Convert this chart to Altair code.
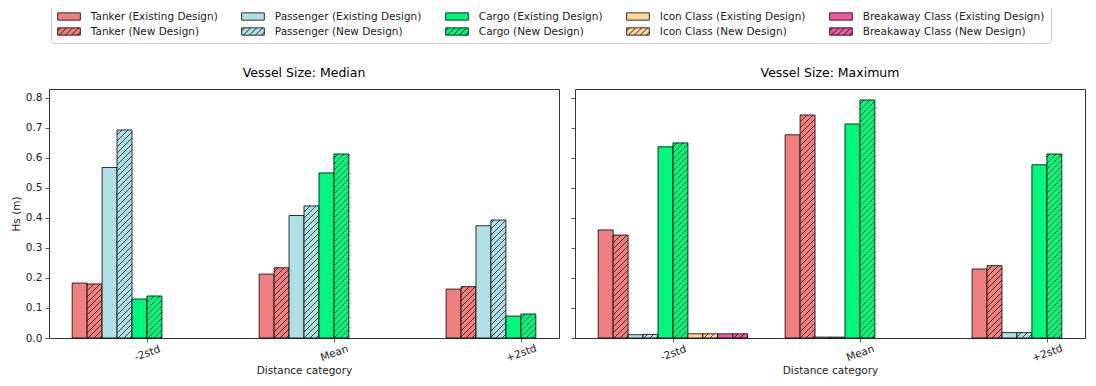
import json
import numpy as np
import pandas as pd
import altair as alt

# ---------------- data ----------------
categories = ["-2std", "Mean", "+2std"]
vessels = ["Tanker", "Passenger", "Cargo", "Icon Class", "Breakaway Class"]
designs = ["Existing Design", "New Design"]
panel_titles = ["Vessel Size: Median", "Vessel Size: Maximum"]

# Hs (m) for -2std, Mean, +2std ; None = no bar
median_tanker_existing = [0.183, 0.213, 0.163]
median_tanker_new = [0.180, 0.234, 0.171]
median_passenger_existing = [0.568, 0.408, 0.374]
median_passenger_new = [0.693, 0.440, 0.393]
median_cargo_existing = [0.130, 0.550, 0.073]
median_cargo_new = [0.140, 0.613, 0.080]
median_icon_existing = [None, None, None]
median_icon_new = [None, None, None]
median_breakaway_existing = [None, None, None]
median_breakaway_new = [None, None, None]

max_tanker_existing = [0.360, 0.677, 0.230]
max_tanker_new = [0.343, 0.743, 0.241]
max_passenger_existing = [0.011, 0.003, 0.018]
max_passenger_new = [0.012, 0.003, 0.018]
max_cargo_existing = [0.637, 0.713, 0.577]
max_cargo_new = [0.650, 0.793, 0.613]
max_icon_existing = [0.014, None, None]
max_icon_new = [0.014, None, None]
max_breakaway_existing = [0.014, None, None]
max_breakaway_new = [0.014, None, None]

vessel_colors = ["#F08080", "#B0E0E6", "#00F77C", "#FFD49E", "#EE5AA2"]

panel_values = [
    [[median_tanker_existing, median_tanker_new],
     [median_passenger_existing, median_passenger_new],
     [median_cargo_existing, median_cargo_new],
     [median_icon_existing, median_icon_new],
     [median_breakaway_existing, median_breakaway_new]],
    [[max_tanker_existing, max_tanker_new],
     [max_passenger_existing, max_passenger_new],
     [max_cargo_existing, max_cargo_new],
     [max_icon_existing, max_icon_new],
     [max_breakaway_existing, max_breakaway_new]],
]

# ---------------- layout constants ----------------
W, H = 510, 249
XMIN, XMAX = -0.524, 2.204
YMIN, YMAX = 0.0, 0.8295
BAR_W = 0.08
KX = W / (XMAX - XMIN)
KY = H / (YMAX - YMIN)
HATCH_S = 6.0  # px spacing of hatch lines
FONT = "DejaVu Sans"


def series_name(v, d):
    return f"{v} ({d})"


def hatch_segments(x0, x1, top):
    X0 = (x0 - XMIN) * KX
    X1 = (x1 - XMIN) * KX
    Yt = (YMAX - top) * KY
    Yb = (YMAX - 0.0) * KY
    segs = []
    k0 = int(np.floor((X0 + Yt) / HATCH_S))
    k1 = int(np.ceil((X1 + Yb) / HATCH_S))
    for k in range(k0, k1 + 1):
        C = k * HATCH_S
        a = max(X0, C - Yb)
        b = min(X1, C - Yt)
        if b - a > 0.4:
            segs.append((XMIN + a / KX, YMAX - (C - a) / KY,
                         XMIN + b / KX, YMAX - (C - b) / KY))
    return segs


bar_frames, hatch_frames = [], []
for p in range(len(panel_titles)):
    rows, hrows = [], []
    for vi, v in enumerate(vessels):
        for di, d in enumerate(designs):
            vals = panel_values[p][vi][di]
            s = vi * 2 + di
            for ci, c in enumerate(categories):
                val = vals[ci]
                if val is None:
                    continue
                x0 = ci + (s - 5) * BAR_W
                rows.append({"series": series_name(v, d), "category": c,
                             "x0": x0, "x1": x0 + BAR_W, "hs": val, "base": 0.0})
                if di == 1:
                    for (a, b, c2, d2) in hatch_segments(x0, x0 + BAR_W, val):
                        hrows.append({"hx0": a, "hy0": b, "hx1": c2, "hy1": d2})
    bar_frames.append(pd.DataFrame(rows))
    hatch_frames.append(pd.DataFrame(hrows))

# legend order (Vega fills the 5 columns column-by-column)
legend_domain = [series_name(v, d) for v in vessels for d in designs]
legend_colors = [vessel_colors[i] for i in range(len(vessels)) for _ in designs]


def swatch_path(hatched):
    hw, hh = 1.89, 0.61
    path = f"M{-hw},{-hh}H{hw}V{hh}H{-hw}Z"
    if hatched:
        C = -hw - hh + 0.5
        while C < hw + hh:
            a = max(-hw, C - hh)
            b = min(hw, C + hh)
            if b - a > 0.05:
                path += f"M{a:.3f},{C - a:.3f}L{b:.3f},{C - b:.3f}"
            C += 1.0
    return path


legend_shapes = [swatch_path(di == 1) for _ in vessels for di in range(len(designs))]

fill_scale = alt.Scale(domain=legend_domain, range=legend_colors)
shape_scale = alt.Scale(domain=legend_domain, range=legend_shapes)
stroke_scale = alt.Scale(domain=legend_domain, range=["black"] * len(legend_domain))
xscale = alt.Scale(domain=[XMIN, XMAX], nice=False, zero=False)
yscale = alt.Scale(domain=[YMIN, YMAX], nice=False, zero=False)

label_expr = f"{json.dumps(categories)}[datum.value]"

legend_kw = dict(
    title=None, orient="none", legendX=2, legendY=-85, columns=5,
    symbolSize=144, symbolStrokeColor="black", symbolStrokeWidth=0.8,
    symbolOpacity=1, symbolOffset=5.5, labelOffset=15.3, labelFontSize=10.5,
    labelFont=FONT, labelColor="#222222", labelLimit=300, rowPadding=3,
    columnPadding=22, padding=6, strokeColor="#cccccc", cornerRadius=3,
    fillColor="white",
)

yvalues = [i / 10 for i in range(9)]


def panel(p):
    xaxis = alt.Axis(values=list(range(len(categories))), labelExpr=label_expr,
                     labelAngle=340, labelAlign="center", labelBaseline="middle",
                     labelPadding=11, title="Distance category", titlePadding=2)
    if p == 0:
        yaxis = alt.Axis(values=yvalues, format=".1f", labelOverlap=False,
                         title="Hs (m)", titlePadding=4, labelPadding=3)
    else:
        yaxis = alt.Axis(values=yvalues, labels=False, title=None)

    layers = []
    if p == 0:
        legend_layer = alt.Chart(bar_frames[p]).mark_point(
            filled=True, strokeWidth=0.8, opacity=0, size=1
        ).encode(
            x=alt.X("x0:Q", scale=xscale, axis=xaxis),
            y=alt.Y("hs:Q", scale=yscale, axis=yaxis),
            fill=alt.Fill("series:N", scale=fill_scale, legend=alt.Legend(**legend_kw)),
            stroke=alt.Stroke("series:N", scale=stroke_scale, legend=alt.Legend(**legend_kw)),
            shape=alt.Shape("series:N", scale=shape_scale, legend=alt.Legend(**legend_kw)),
        )
        layers.append(legend_layer)

    bars = alt.Chart(bar_frames[p]).mark_bar(stroke="black", strokeWidth=0.8).encode(
        x=alt.X("x0:Q", scale=xscale, axis=xaxis),
        x2="x1:Q",
        y=alt.Y("hs:Q", scale=yscale, axis=yaxis),
        y2="base:Q",
        fill=alt.Fill("series:N", scale=fill_scale, legend=None),
    )
    hatch = alt.Chart(hatch_frames[p]).mark_rule(color="black", strokeWidth=0.7).encode(
        x=alt.X("hx0:Q", scale=xscale, axis=xaxis),
        y=alt.Y("hy0:Q", scale=yscale, axis=yaxis),
        x2="hx1:Q", y2="hy1:Q",
    )
    layers += [bars, hatch]
    return alt.layer(*layers).properties(
        width=W, height=H,
        title=alt.TitleParams(panel_titles[p], fontSize=12.5, fontWeight="normal",
                              font=FONT, color="black", anchor="middle", offset=10),
    )


chart = alt.hconcat(panel(0), panel(1), spacing=10).properties(
    padding={"left": 2, "top": -5, "right": 0, "bottom": 0}
).configure_view(
    stroke="#333333", strokeWidth=1
).configure_axis(
    domain=False, grid=False, tickColor="#333333", tickSize=4, tickWidth=0.8,
    labelFont=FONT, labelFontSize=10.5, labelColor="#222222",
    titleFont=FONT, titleFontSize=10.5, titleFontWeight="normal", titleColor="#222222",
)

chart.save("out.html", embed_options={"renderer": "svg", "actions": False})
